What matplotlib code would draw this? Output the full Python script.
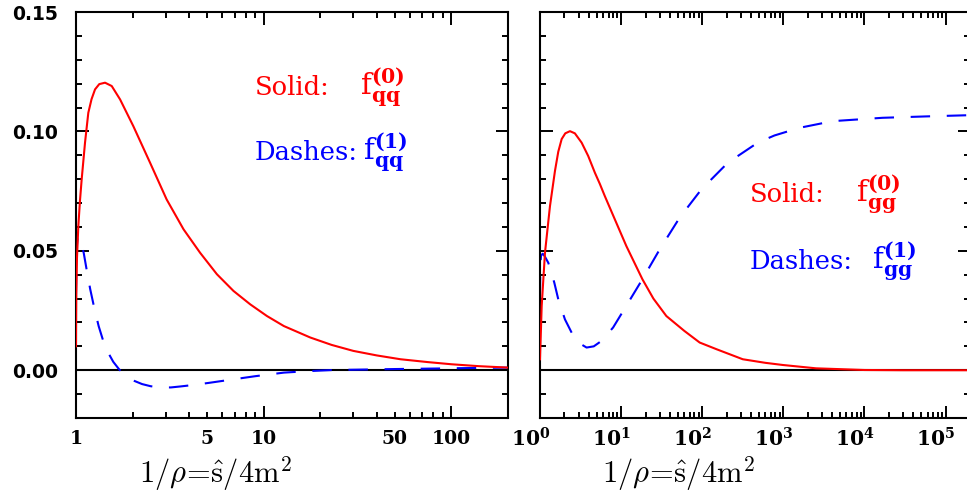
import numpy as np
import matplotlib.pyplot as plt
from matplotlib.ticker import MultipleLocator, LogLocator, NullFormatter
from matplotlib.transforms import ScaledTranslation

plt.rcParams['lines.scale_dashes'] = False
plt.rcParams['mathtext.fontset'] = 'dejavuserif'

# q-qbar channel, 1/rho from threshold to 200
x_qq0 = [1.0, 1.001, 1.004, 1.012, 1.029, 1.05, 1.072, 1.117, 1.163, 1.21, 1.263, 1.33,
         1.428, 1.55, 1.717, 2.02, 2.48, 3.04, 3.74, 4.58, 5.63, 6.90, 8.47, 10.4, 12.8,
         17.7, 23, 30, 40, 53.5, 75, 100, 140, 200]
f_qq0 = [0.010, 0.018, 0.0325, 0.047, 0.0604, 0.071, 0.0799, 0.0953, 0.1078, 0.1135, 0.1176,
         0.1198, 0.1204, 0.1190, 0.1134, 0.1022, 0.0869, 0.0715, 0.0590, 0.0492, 0.0402,
         0.0332, 0.0276, 0.0227, 0.0185, 0.0137, 0.0106, 0.0081, 0.0062, 0.0046, 0.0034,
         0.0025, 0.0017, 0.0011]

x_qq1 = [1.0, 1.006, 1.02, 1.04, 1.065, 1.10, 1.14, 1.19, 1.25, 1.32, 1.40, 1.48, 1.58,
         1.70, 1.86, 2.05, 2.25, 2.5, 2.81, 3.2, 3.59, 4.3, 5.2, 6.9, 9.0, 12.8, 17, 23.5,
         35, 50, 80, 120, 200]
f_qq1 = [0.032, 0.050, 0.0558, 0.0558, 0.0535, 0.049, 0.042, 0.034, 0.0262, 0.0185, 0.0120,
         0.0075, 0.0035, 0.0003, -0.0024, -0.0045, -0.0058, -0.0067, -0.0072, -0.0072,
         -0.0068, -0.0061, -0.0052, -0.0038, -0.0025, -0.0010, -0.0004, 0.0001, 0.0003,
         0.0005, 0.0007, 0.0009, 0.0011]

# g-g channel, 1/rho up to 2e5
x_gg0 = [1.0, 1.049, 1.152, 1.327, 1.53, 1.68, 1.85, 2.05, 2.34, 2.69, 3.26, 3.93, 4.75,
         5.47, 6.30, 8.36, 11.6, 18.3, 25, 36.1, 60, 93, 150, 316, 600, 984, 2530, 1e4,
         3e4, 2e5]
f_gg0 = [0.0046, 0.0269, 0.0492, 0.0687, 0.0835, 0.0915, 0.0968, 0.0992, 0.1001, 0.0992,
         0.0953, 0.0897, 0.0827, 0.0780, 0.0729, 0.0632, 0.0520, 0.0381, 0.0300, 0.0227,
         0.0165, 0.0116, 0.0088, 0.0046, 0.0031, 0.0022, 0.0008, 0.0001, 0.0, 0.0]

x_gg1 = [1.0, 1.01, 1.03, 1.08, 1.14, 1.265, 1.5, 1.68, 2.03, 2.57, 3.1, 3.75, 4.6, 5.74,
         7.97, 10.6, 18.3, 29.9, 52.7, 97.5, 207, 484, 777, 1578, 4055, 16700, 6e4, 2e5]
f_gg1 = [0.031, 0.044, 0.048, 0.0488, 0.0478, 0.045, 0.0367, 0.0297, 0.0213, 0.0144, 0.0112,
         0.0095, 0.0100, 0.0123, 0.0179, 0.0248, 0.0381, 0.0506, 0.0639, 0.0757, 0.0869,
         0.0953, 0.0983, 0.1015, 0.1043, 0.1057, 0.1063, 0.1068]

yticks = [0.0, 0.05, 0.10, 0.15]
ytick_labels = ['0.00', '0.05', '0.10', '0.15']
xlab = r'$1/\rho\!=\!\hat{\mathrm{s}}/4\mathrm{m}^2$'

fig = plt.figure(figsize=(9.67, 4.92), dpi=100)
ax1 = fig.add_axes([76/967, 74/492, 432/967, 406/492])
ax2 = fig.add_axes([540/967, 74/492, 430/967, 406/492])

dash = (0, (14, 12))
for ax in (ax1, ax2):
    ax.axhline(0, color='black', lw=1.5, zorder=1)
    ax.set_xscale('log')
    ax.set_ylim(-0.02, 0.15)
    ax.set_yticks(yticks)
    ax.yaxis.set_minor_locator(MultipleLocator(0.01))
    ax.tick_params(which='both', direction='in', top=True, right=True, width=1.4)
    ax.tick_params(which='major', length=9)
    ax.tick_params(which='minor', length=4)
    for sp in ax.spines.values():
        sp.set_linewidth(1.5)

ax1.plot(x_qq0, f_qq0, color='red', lw=1.5, zorder=3)
ax1.plot(x_qq1, f_qq1, color='blue', lw=1.5, linestyle=dash, zorder=2)
ax2.plot(x_gg0, f_gg0, color='red', lw=1.5, zorder=3)
ax2.plot(x_gg1, f_gg1, color='blue', lw=1.5, linestyle=dash, zorder=2)

# left panel axes and labels
ax1.set_xlim(1, 200)
ax1.set_xticks([1, 10, 100], labels=['1', '10', '100'])
minors = [2, 3, 4, 5, 6, 7, 8, 9, 20, 30, 40, 50, 60, 70, 80, 90, 200]
ax1.set_xticks(minors, labels=[str(m) if m in (5, 50) else '' for m in minors], minor=True)
ax1.set_yticklabels(ytick_labels, fontsize=13.5, fontweight='bold', family='DejaVu Sans')
ax1.tick_params(axis='y', which='both', pad=13)
ax1.tick_params(axis='x', which='both', pad=9)
for lab in ax1.get_xticklabels(which='both'):
    lab.set_fontsize(13.5)
    lab.set_fontweight('bold')
    lab.set_family('DejaVu Serif')

# right panel
ax2.set_xlim(1, 2e5)
ax2.set_xticks([10**k for k in range(6)],
               labels=[r'$\mathbf{10^{%d}}$' % k for k in range(6)])
ax2.xaxis.set_minor_locator(LogLocator(base=10, subs=np.arange(2, 10), numticks=20))
ax2.xaxis.set_minor_formatter(NullFormatter())
ax2.set_yticklabels([])
ax2.tick_params(axis='x', which='both', pad=7)
shift = ScaledTranslation(-7/72, 0, fig.dpi_scale_trans)
for lab in ax2.get_xticklabels():
    lab.set_fontsize(14.5)
    lab.set_transform(lab.get_transform() + shift)

for ax in (ax1, ax2):
    ax.text(0.5, -0.160, xlab, transform=ax.transAxes, ha='right', va='baseline',
            fontsize=22, math_fontfamily='cm')

txt = dict(family='DejaVu Serif', fontsize=18.5, va='baseline')
fml = dict(family='DejaVu Serif', fontsize=21, va='baseline')
ax1.text(0.414, 0.796, 'Solid:', color='red', transform=ax1.transAxes, **txt)
ax1.text(0.657, 0.796, r'$\mathrm{f}^{\mathbf{(0)}}_{\mathbf{qq}}$', color='red',
         transform=ax1.transAxes, **fml)
ax1.text(0.414, 0.635, 'Dashes:', color='blue', transform=ax1.transAxes, **txt)
ax1.text(0.664, 0.635, r'$\mathrm{f}^{\mathbf{(1)}}_{\mathbf{qq}}$', color='blue',
         transform=ax1.transAxes, **fml)
ax2.text(0.488, 0.533, 'Solid:', color='red', transform=ax2.transAxes, **txt)
ax2.text(0.735, 0.533, r'$\mathrm{f}^{\mathbf{(0)}}_{\mathbf{gg}}$', color='red',
         transform=ax2.transAxes, **fml)
ax2.text(0.488, 0.367, 'Dashes:', color='blue', transform=ax2.transAxes, **txt)
ax2.text(0.771, 0.367, r'$\mathrm{f}^{\mathbf{(1)}}_{\mathbf{gg}}$', color='blue',
         transform=ax2.transAxes, **fml)

fig.savefig('out.png', dpi=100)
